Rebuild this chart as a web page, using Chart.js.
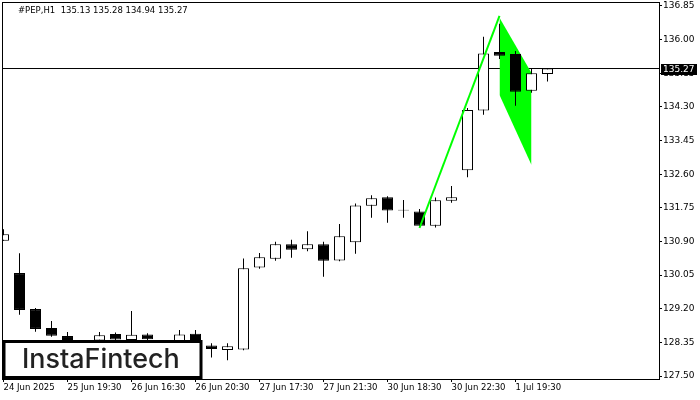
<!DOCTYPE html>
<html>
<head>
<meta charset="utf-8">
<script src="https://cdn.jsdelivr.net/npm/chart.js@4.4.0/dist/chart.umd.min.js"></script>
<style>
  html, body { margin: 0; padding: 0; background: #fff; }
  canvas { display: block; }
</style>
</head>
<body>
<canvas id="chart" width="700" height="400"></canvas>
<script>
const symbol = "#PEP,H1";

// H1 candles, oldest first
const opens  = [130.92, 130.10, 129.19, 128.71, 128.51, 128.34, 128.40, 128.56, 128.41, 128.55,
                128.40, 128.36, 128.57, 128.27, 128.16, 128.17, 130.24, 130.46, 130.83, 130.70,
                130.83, 130.42, 130.88, 131.80, 132.02, 131.70, 131.66, 131.30, 131.93, 132.70,
                134.21, 135.69, 135.64, 134.71, 135.13];
const highs  = [131.21, 130.60, 129.22, 128.89, 128.61, 128.40, 128.61, 128.60, 129.14, 128.58,
                128.41, 128.66, 128.66, 128.33, 128.33, 130.47, 130.61, 130.89, 130.94, 131.16,
                130.89, 131.34, 131.86, 132.07, 132.04, 131.95, 131.72, 132.01, 132.30, 134.27,
                136.07, 136.40, 135.71, 135.27, 135.28];
const lows   = [130.92, 129.05, 128.62, 128.49, 128.30, 128.18, 128.35, 128.33, 128.36, 128.37,
                128.22, 128.31, 128.24, 127.97, 127.90, 128.15, 130.21, 130.41, 130.49, 130.65,
                130.01, 130.40, 130.59, 131.50, 131.37, 131.50, 131.27, 131.25, 131.88, 132.52,
                134.10, 135.51, 134.33, 134.66, 134.94];
const closes = [131.08, 129.17, 128.69, 128.52, 128.36, 128.26, 128.53, 128.42, 128.54, 128.43,
                128.30, 128.55, 128.31, 128.18, 128.25, 130.22, 130.50, 130.83, 130.69, 130.83,
                130.41, 131.03, 131.81, 131.99, 131.68, 131.68, 131.30, 131.94, 132.02, 134.22,
                135.65, 135.59, 134.68, 135.15, 135.27];

const xLabels = ["24 Jun 2025", "25 Jun 19:30", "26 Jun 16:30", "26 Jun 20:30", "27 Jun 17:30",
                 "27 Jun 21:30", "30 Jun 18:30", "30 Jun 22:30", "1 Jul 19:30"];
const yTicks = [127.50, 128.35, 129.20, 130.05, 130.90, 131.75, 132.60, 133.45, 134.30, 135.15, 136.00, 136.85];

// bullish flag pattern
const poleX = [26, 31];
const poleY = [131.24, 136.60];
const flagX = [31, 33];
const flagTop = [136.55, 135.16];
const flagBottom = [134.60, 132.83];

const last = closes.length - 1;
const lastPrice = closes[last];
const header = symbol + "  " + [opens[last], highs[last], lows[last], closes[last]].map(v => v.toFixed(2)).join(" ");

const FONT = "DejaVu Sans";

const overlay = {
  id: "overlay",
  afterDraw(chart) {
    const ctx = chart.ctx;
    const a = chart.chartArea;
    const y = chart.scales.y;
    ctx.save();
    ctx.setLineDash([]);

    // frame
    ctx.fillStyle = "#000";
    ctx.fillRect(a.left - 1, a.top - 1, a.right - a.left + 2, 1);
    ctx.fillRect(a.left - 1, a.bottom, a.right - a.left + 2, 1);
    ctx.fillRect(a.left - 1, a.top - 1, 1, a.bottom - a.top + 2);
    ctx.fillRect(a.right, a.top - 1, 1, a.bottom - a.top + 2);

    ctx.font = "8.5px '" + FONT + "'";
    ctx.textBaseline = "middle";
    ctx.textAlign = "left";
    ctx.fillText(header, 18, 11);

    // current price tag
    ctx.font = "9px '" + FONT + "'";
    const py = Math.round(y.getPixelForValue(lastPrice));
    ctx.fillRect(a.right + 2, py - 5, 36, 11);
    ctx.fillStyle = "#fff";
    ctx.fillText(lastPrice.toFixed(2), a.right + 4, py + 0.5);

    // logo
    ctx.fillStyle = "#fff";
    ctx.fillRect(3, 341, 198, 37);
    ctx.lineWidth = 3;
    ctx.strokeStyle = "#000";
    ctx.strokeRect(4, 341.5, 197, 36);
    let size = 26;
    ctx.font = "500 " + size + "px Inter";
    const w = ctx.measureText("InstaFintech").width;
    size = size * 158 / w;
    ctx.font = "500 " + size.toFixed(1) + "px Inter";
    ctx.fillStyle = "#222";
    ctx.textBaseline = "alphabetic";
    ctx.fillText("InstaFintech", 22, 368);

    ctx.restore();
  }
};

new Chart(document.getElementById("chart"), {
  type: "bar",
  data: {
    datasets: [
      {
        type: "line",
        data: [{ x: -1, y: lastPrice }, { x: 42, y: lastPrice }],
        borderColor: "#000",
        borderWidth: 1,
        pointRadius: 0,
        order: 10
      },
      {
        type: "line",
        data: flagX.map((x, i) => ({ x: x, y: flagTop[i] })),
        borderWidth: 0,
        borderColor: "rgba(0,0,0,0)",
        pointRadius: 0,
        fill: false,
        order: 9
      },
      {
        type: "line",
        data: flagX.map((x, i) => ({ x: x, y: flagBottom[i] })),
        borderWidth: 0,
        borderColor: "rgba(0,0,0,0)",
        backgroundColor: "#00ff00",
        pointRadius: 0,
        fill: "-1",
        order: 9
      },
      {
        data: lows.map((l, i) => ({ x: i, y: [l, highs[i]] })),
        backgroundColor: "#000",
        borderWidth: 0,
        barThickness: 1,
        grouped: false,
        inflateAmount: 0,
        order: 8
      },
      {
        data: opens.map((o, i) => ({ x: i, y: [o, closes[i]] })),
        backgroundColor: opens.map((o, i) => closes[i] >= o ? "#fff" : "#000"),
        borderColor: "#000",
        borderWidth: 1,
        borderSkipped: false,
        barThickness: 11,
        grouped: false,
        inflateAmount: 0,
        order: 7
      },
      {
        type: "line",
        data: poleX.map((x, i) => ({ x: x, y: poleY[i] })),
        borderColor: "#00ff00",
        borderWidth: 2,
        pointRadius: 0,
        order: 1
      }
    ]
  },
  options: {
    responsive: false,
    animation: false,
    devicePixelRatio: 1,
    layout: { padding: { left: 3, top: 3, right: 0, bottom: 0 } },
    plugins: { legend: { display: false }, tooltip: { enabled: false } },
    scales: {
      x: {
        type: "linear",
        offset: false,
        min: -0.03125,
        max: 40.96875,
        afterBuildTicks: s => { s.ticks = xLabels.map((t, i) => ({ value: i * 4 })); },
        afterFit: s => { s.height = 21; s.paddingLeft = 0; s.paddingRight = 0; },
        border: { display: false },
        grid: { drawOnChartArea: false, offset: false, tickLength: 3, color: "#000" },
        ticks: {
          callback: v => xLabels[v / 4],
          align: "start",
          autoSkip: false,
          maxRotation: 0,
          minRotation: 0,
          padding: 1,
          color: "#000",
          font: { family: FONT, size: 8.5 }
        }
      },
      y: {
        position: "right",
        min: 127.4242,
        max: 136.9258,
        afterBuildTicks: s => { s.ticks = yTicks.map(v => ({ value: v })); },
        afterFit: s => { s.width = 41; s.paddingTop = 0; s.paddingBottom = 0; },
        border: { display: false },
        grid: { drawOnChartArea: false, tickLength: 3, color: "#000" },
        ticks: {
          callback: v => v.toFixed(2),
          padding: 1,
          color: "#000",
          font: { family: FONT, size: 9 }
        }
      }
    }
  },
  plugins: [overlay]
});
</script>
</body>
</html>
